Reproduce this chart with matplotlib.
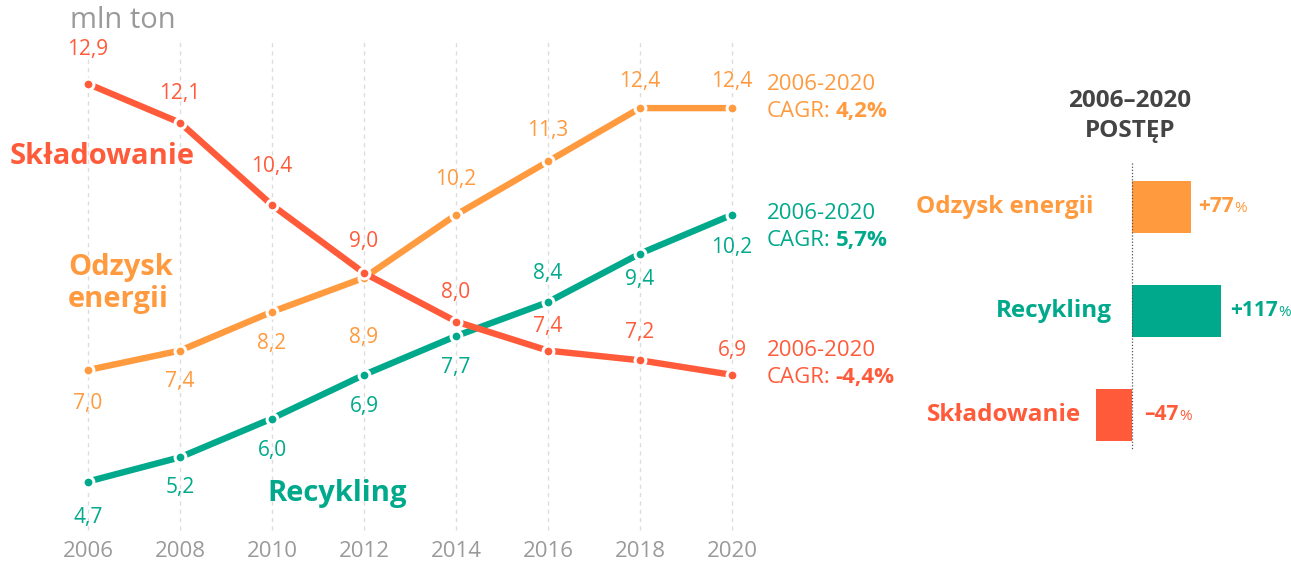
import matplotlib
matplotlib.use("Agg")
import matplotlib.pyplot as plt

# ---------------- data ----------------
years = [2006, 2008, 2010, 2012, 2014, 2016, 2018, 2020]
skladowanie = [12.9, 12.1, 10.4, 9.0, 8.0, 7.4, 7.2, 6.9]
odzysk = [7.0, 7.4, 8.2, 8.9, 10.2, 11.3, 12.4, 12.4]
recykling = [4.7, 5.2, 6.0, 6.9, 7.7, 8.4, 9.4, 10.2]
cagr_skladowanie = "-4,4%"
cagr_odzysk = "4,2%"
cagr_recykling = "5,7%"
period = "2006-2020"
unit_label = "mln ton"

bar_names = ["Odzysk energii", "Recykling", "Składowanie"]
bar_values = [77, 117, -47]
bar_title = ["2006–2020", "POSTĘP"]

# ---------------- style ----------------
RED = "#FF5B3B"
ORANGE = "#FF9A3F"
GREEN = "#00A98B"
GRAY = "#9A9A9A"
GRID = "#DDDDDD"
DARK = "#444444"
FONT = "Open Sans"

W, H = 1291, 562
plt.rcParams["font.family"] = [FONT, "DejaVu Sans"]

fig = plt.figure(figsize=(W / 100, H / 100), dpi=100)


def fx(px):
    return px / W


def fy(py):
    return 1 - py / H


def fmt(v):
    return f"{v:.1f}".replace(".", ",")


# ---------------- line chart ----------------
ax_bottom_px = 537
ax = fig.add_axes([0, fy(ax_bottom_px), fx(760), ax_bottom_px / H])
px_per_year = 46.0
ax.set_xlim(2006 - 88 / px_per_year, 2020 + (760 - 732) / px_per_year)
px_per_unit = 48.5
ax.set_ylim(9.0 - (ax_bottom_px - 273) / px_per_unit, 9.0 + 273 / px_per_unit)
for s in ax.spines.values():
    s.set_visible(False)
ax.set_yticks([])
ax.set_xticks(years, [str(y) for y in years])
ax.tick_params(axis="x", length=0, pad=3, labelsize=16, labelcolor=GRAY)

ax.vlines(years, 3.70, 13.80, colors=GRID, linestyles=(0, (3, 3)), lw=1, zorder=0)

LBL = 15
series = [
    (skladowanie, RED, [34, 29, 39, 32, 29, 24, 28, 24], cagr_skladowanie, (-24, 3), 4),
    (odzysk, ORANGE, [-33, -31, -32, -60, 35, 31, 27, 27], cagr_odzysk, (-24, 3), 3),
    (recykling, GREEN, [-36, -30, -32, -32, -31, 29, -26, -33], cagr_recykling, (-1, 26), 3),
]
for vals, col, offs, cagr, (l1, l2), z in series:
    ax.plot(years, vals, color=col, lw=4.6, solid_capstyle="butt", zorder=z)
    ax.plot(years, vals, linestyle="none", marker="o", ms=7.8, mfc=col, mec="white",
            mew=2.2, zorder=z + 0.5)
    for x, v, o in zip(years, vals, offs):
        ax.annotate(fmt(v), xy=(x, v), xytext=(0, o), textcoords="offset pixels",
                    ha="center", va="center", color=col, fontsize=LBL)
    ax.annotate(period, xy=(years[-1], vals[-1]), xytext=(35, -l1),
                textcoords="offset pixels", ha="left", va="center",
                color=col, fontsize=16, annotation_clip=False)
    t2 = ax.annotate("CAGR:", xy=(years[-1], vals[-1]), xytext=(35, -l2),
                     textcoords="offset pixels", ha="left", va="center",
                     color=col, fontsize=16, annotation_clip=False)
    ax.annotate(cagr, xy=(1, 0), xycoords=t2, xytext=(5, 0),
                textcoords="offset pixels", ha="left", va="bottom",
                color=col, fontsize=16, fontweight="bold", annotation_clip=False)

fig.text(fx(123), fy(20), unit_label, ha="center", va="center", color=GRAY,
         fontsize=21)

NAME = 21
fig.text(fx(10), fy(157), "Składowanie", ha="left", va="center", color=RED,
         fontsize=NAME, fontweight="bold")
fig.text(fx(68), fy(268), "Odzysk", ha="left", va="center", color=ORANGE,
         fontsize=NAME, fontweight="bold")
fig.text(fx(68), fy(300), "energii", ha="left", va="center", color=ORANGE,
         fontsize=NAME, fontweight="bold")
fig.text(fx(267), fy(494), "Recykling", ha="left", va="center", color=GREEN,
         fontsize=NAME, fontweight="bold")

# ---------------- bar panel ----------------
axb = fig.add_axes([fx(900), 0, fx(W - 900), 1])
px_per_pct = 0.762
axb.set_xlim(-(1132 - 900) / px_per_pct, (W - 1132) / px_per_pct)
row_px = 104
axb.set_ylim((H - 207) / row_px, -207 / row_px)
axb.axis("off")

bar_colors = [ORANGE, GREEN, RED]
pos = list(range(len(bar_values)))
axb.barh(pos, bar_values, height=0.5, color=bar_colors, zorder=2)
axb.vlines(0, -0.42, 2.34, colors="#555555", linestyles=(0, (1, 1.5)), lw=0.9, zorder=3)

name_gap = [39, 20, 15]
val_gap = [7, 9, 12]
for i, (n, v, c) in enumerate(zip(bar_names, bar_values, bar_colors)):
    axb.annotate(n, xy=(min(v, 0), i), xytext=(-name_gap[i], 0), textcoords="offset pixels",
                 ha="right", va="center", color=c, fontsize=17.5, fontweight="bold")
    lab = f"+{v}" if v > 0 else f"–{abs(v)}"
    t = axb.annotate(lab, xy=(max(v, 0), i), xytext=(val_gap[i], 0), textcoords="offset pixels",
                     ha="left", va="center", color=c, fontsize=15, fontweight="bold")
    axb.annotate("%", xy=(1, 0), xycoords=t, xytext=(0.5, 1.5), textcoords="offset pixels",
                 ha="left", va="bottom", color=c, fontsize=11)

fig.text(fx(1130), fy(101), bar_title[0], ha="center", va="center", color=DARK,
         fontsize=17.5, fontweight="bold")
fig.text(fx(1130), fy(131), bar_title[1], ha="center", va="center", color=DARK,
         fontsize=17.5, fontweight="bold")

fig.savefig("out.png", dpi=100)
